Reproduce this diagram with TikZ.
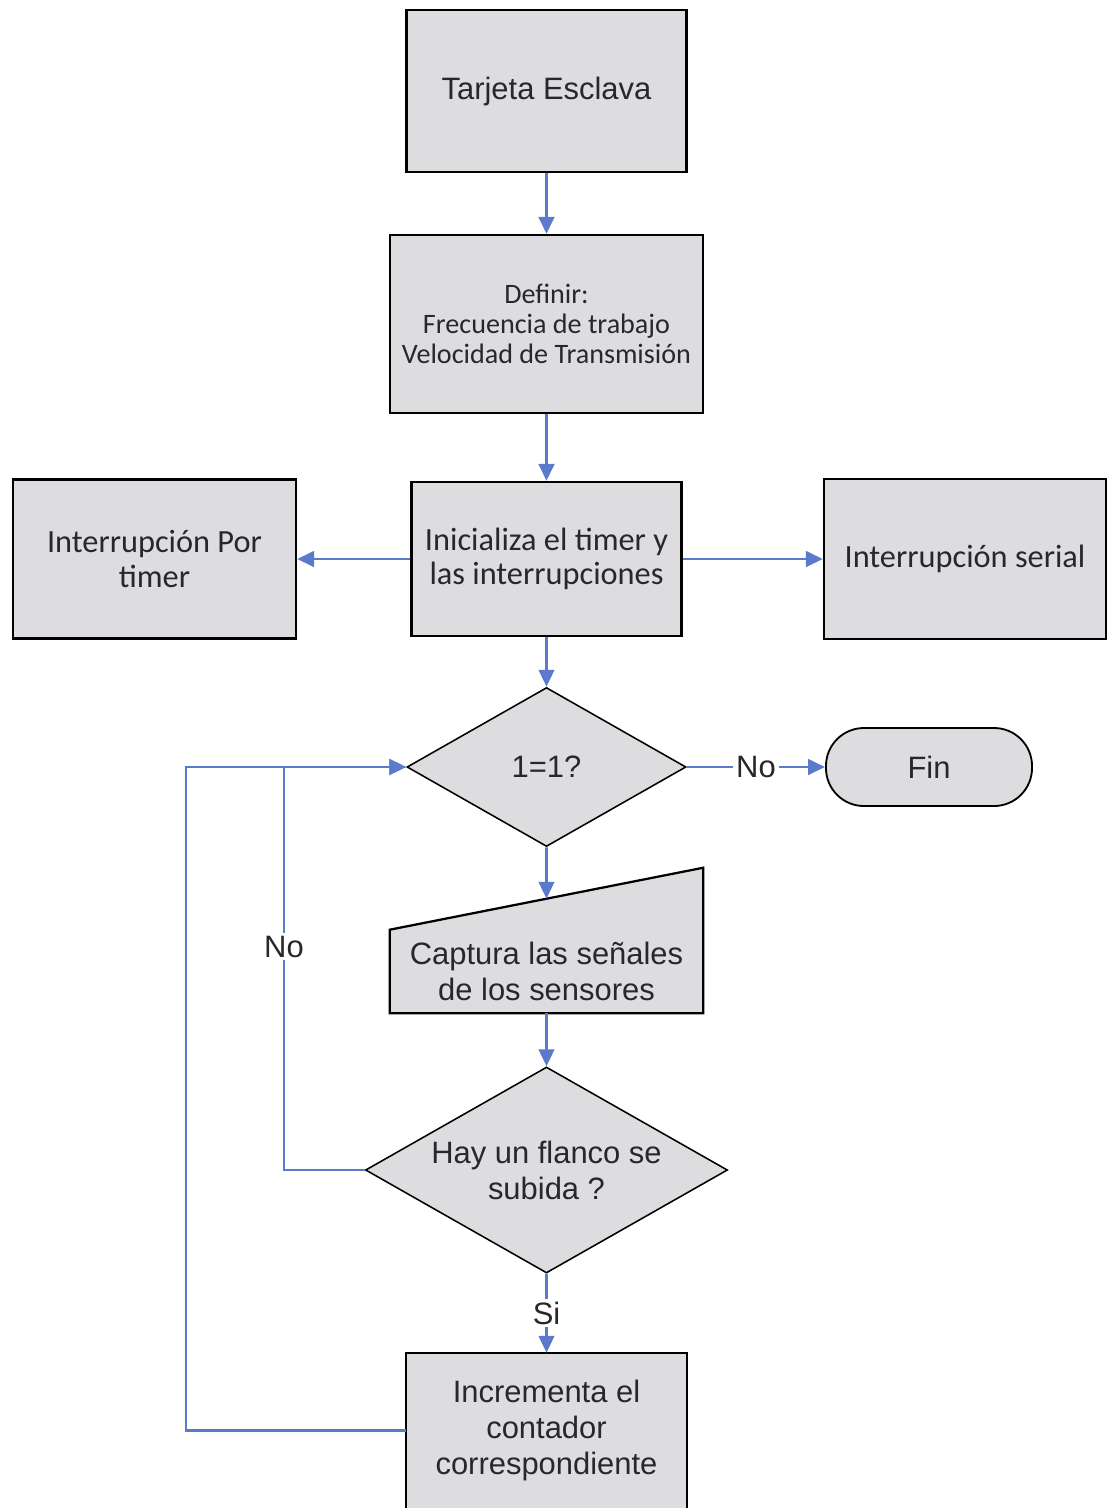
\documentclass[tikz,border=0pt]{standalone}
\usepackage{fontspec}
\setmainfont{Liberation Sans}
\newfontfamily\calib{Carlito}
\usetikzlibrary{shapes.geometric,arrows.meta,calc,backgrounds}
\definecolor{boxfill}{RGB}{221,221,223}
\definecolor{flow}{RGB}{92,122,204}
\definecolor{ink}{RGB}{40,40,44}

\begin{document}
\begin{tikzpicture}[x=0.025cm,y=-0.025cm,
  box/.style={rectangle,draw=black,line width=1.6pt,fill=boxfill,text=ink,align=center,inner sep=0pt},
  plainbox/.style={rectangle,fill=boxfill,text=ink,align=center,inner sep=0pt},
  dec/.style={diamond,draw=black,line width=1.1pt,fill=boxfill,text=ink,align=center,inner sep=0pt,shape aspect=1.76},
  arialtxt/.style={font=\fontsize{22}{25.5}\selectfont},
  calibtxt/.style={font=\calib\fontsize{23}{24.5}\selectfont},
  flowline/.style={draw=flow,line width=2pt,-{Triangle[length=12pt,width=11pt]}},
  lbl/.style={fill=white,text=ink,inner sep=2pt,font=\fontsize{22}{25}\selectfont}
]
\useasboundingbox (0,0) rectangle (1115,1508);

% process boxes
\node[box,arialtxt,minimum width=7cm,minimum height=4.05cm] (tarjeta) at (546.5,91) {Tarjeta Esclava};
\node[box,font=\calib\fontsize{20}{21.3}\selectfont,minimum width=7.825cm,minimum height=4.45cm] (definir) at (546.5,324)
  {Definir:\\Frecuencia de trabajo\\Velocidad de Transmisión};
\node[box,calibtxt,minimum width=6.75cm,minimum height=3.85cm] (inicia) at (546.5,559)
  {Inicializa el timer y\\las interrupciones};
\node[box,calibtxt,minimum width=7.075cm,minimum height=3.975cm] (inttimer) at (154.5,559)
  {Interrupción Por\\timer};
\node[box,calibtxt,minimum width=7.05cm,minimum height=4cm] (intserial) at (965,559)
  {Interrupción serial};

% decisions and terminator
\node[dec,arialtxt,minimum width=6.975cm,minimum height=3.975cm] (loop) at (546.5,767) {1=1?};
\node[box,arialtxt,rounded corners=0.95cm,line width=1.3pt,minimum width=5.15cm,minimum height=1.95cm] (fin) at (929,767) {Fin};

% manual input: text box, slanted fill behind it, outline on top
\node[plainbox,arialtxt,minimum width=7.825cm,minimum height=2.075cm] (captura) at (546.5,971.5)
  {Captura las señales\\de los sensores};
\begin{scope}[on background layer]
  \fill[boxfill] (captura.south west) -- (captura.south east)
    -- ($(captura.north east)+(0,-62)$) -- (captura.north west) -- cycle;
\end{scope}
\draw[line width=1.6pt,line join=miter] (captura.south west) -- (captura.south east)
  -- ($(captura.north east)+(0,-62)$) -- (captura.north west) -- cycle;
\coordinate (capturain) at ($(captura.north west)!0.5!(captura.north east)+(0,-31)$);

\node[dec,arialtxt,minimum width=9.05cm,minimum height=5.15cm] (flanco) at (546.5,1170)
  {Hay un flanco se\\subida ?};

% counter box, open at the lower edge
\node[plainbox,arialtxt,minimum width=7.025cm,minimum height=3.875cm] (incr) at (546.5,1430.5)
  {Incrementa el\\contador\\correspondiente};
\draw[line width=1.6pt] ($(incr.south west)+(0,10)$) -- (incr.north west) -- (incr.north east) -- ($(incr.south east)+(0,10)$);

% loop-back corners
\coordinate (nojoin) at (284,767);
\coordinate (backjoin) at (186,767);

% connectors
\draw[flowline] (tarjeta) -- (definir);
\draw[flowline] (definir) -- (inicia);
\draw[flowline] (inicia.west) -- (inttimer.east);
\draw[flowline] (inicia.east) -- (intserial.west);
\draw[flowline] (inicia) -- (loop);
\draw[flowline] (loop.east) -- node[lbl] {No} (fin.west);
\draw[flowline] (loop.south) -- (capturain);
\draw[flowline] (captura.south) -- (flanco.north);
\draw[flowline] (flanco.south) -- node[lbl] {Si} (incr.north);
\draw[flowline] (flanco.west) -| node[lbl,pos=0.777] {No} (nojoin) -- (loop.west);
\draw[flowline] (incr.west) -| (backjoin) -- (loop.west);
\end{tikzpicture}
\end{document}
